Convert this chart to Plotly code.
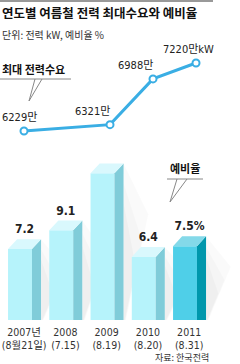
import plotly.graph_objects as go

# ---------------- data ----------------
years = ["2007", "2008", "2009", "2010", "2011"]
tick_labels = ["2007년<br>(8월21일)", "2008<br>(7.15)", "2009<br>(8.19)",
               "2010<br>(8.20)", "2011<br>(8.31)"]
reserve = [7.2, 9.1, 14.9, 6.4, 7.5]
reserve_labels = ["7.2", "9.1", "14.9", "6.4", "7.5%"]
demand = [6229, None, 6321, 6988, 7220]
demand_labels = ["6229만", None, "6321만", "6988만", "7220만kW"]

title = "연도별 여름철 전력 최대수요와 예비율"
subtitle = "단위: 전력 kW, 예비율 %"
source = "자료: 한국전력"
demand_name = "최대 전력수요"
reserve_name = "예비율"

# ---------------- style ----------------
W, H = 240, 364
NARROW = "Liberation Sans Narrow, DejaVu Sans Condensed, Roboto, Noto Sans CJK KR, sans-serif"
KR = "Noto Sans CJK KR, sans-serif"
front_c = ["#b6f3fb"] * 4 + ["#4fcfe8"]
side_c = ["#80ccd9"] * 4 + ["#0097ac"]
top_c = ["#d9f8fd"] * 4 + ["#84d9e9"]
line_c = "#3aaee4"
bw, dx, dy = 0.58, 0.22, 1.0


def px(x):
    return x / W


def py(y):
    return 1 - y / H


idx = list(range(len(years)))
fig = go.Figure()

# bar front faces
fig.add_trace(go.Bar(x=idx, y=reserve, width=bw, marker=dict(color=front_c, line=dict(width=0)),
                     xaxis="x", yaxis="y", hoverinfo="skip"))

shapes = []
for i, v in enumerate(reserve):
    xl, xr = i - bw / 2, i + bw / 2
    xs = xr + dx
    # soft shadow (layers for a faint gradient)
    for k, a in [(1.0, 0.02), (0.75, 0.02), (0.5, 0.025)]:
        shapes.append(dict(type="path", xref="x", yref="y", layer="below",
                           path=(f"M{xs},0 L{xs+0.06*k},0 L{xs+0.6*k},{v*0.72*k} "
                                 f"L{xs},{(v+dy)*(0.5+0.5*k)} Z"),
                           fillcolor=f"rgba(0,0,0,{a})", line=dict(width=0)))
    # side face
    fig.add_trace(go.Scatter(x=[xr, xr + dx, xr + dx, xr, xr], y=[0, 0, v + dy, v, 0],
                             fill="toself", fillcolor=side_c[i], mode="lines",
                             line=dict(width=0, color=side_c[i]), xaxis="x", yaxis="y",
                             hoverinfo="skip"))
    # top face
    fig.add_trace(go.Scatter(x=[xl, xr, xr + dx, xl + dx, xl], y=[v, v, v + dy, v + dy, v],
                             fill="toself", fillcolor=top_c[i], mode="lines",
                             line=dict(width=0, color=top_c[i]), xaxis="x", yaxis="y",
                             hoverinfo="skip"))

# bar value labels
fig.add_trace(go.Scatter(x=[i + dx / 2 for i in idx], y=[v + dy + 0.9 for v in reserve],
                         mode="text", text=[f"<b>{t}</b>" for t in reserve_labels],
                         textposition="middle center",
                         textfont=dict(family=NARROW, size=12, color="#222"),
                         cliponaxis=False, xaxis="x", yaxis="y", hoverinfo="skip"))

# demand line
fig.add_trace(go.Scatter(x=idx, y=demand, mode="lines+markers", connectgaps=True,
                         line=dict(color=line_c, width=3),
                         marker=dict(size=7, color="white", line=dict(color=line_c, width=2)),
                         xaxis="x2", yaxis="y2", cliponaxis=False, hoverinfo="skip"))

annotations = []
lab_anchor = ["left", None, "right", "right", "center"]
lab_xshift = [-24, 0, 2, 2, -8]
for i, (v, t) in enumerate(zip(demand, demand_labels)):
    if v is None:
        continue
    annotations.append(dict(x=i, y=v, xref="x2", yref="y2", text=t, showarrow=False,
                            xanchor=lab_anchor[i], yanchor="bottom", xshift=lab_xshift[i],
                            yshift=5, font=dict(family=NARROW, size=11, color="#222")))

# titles / notes
annotations += [
    dict(x=0, y=py(13), xref="paper", yref="paper", text=f"<b>{title}</b>", showarrow=False,
         xanchor="left", yanchor="middle", font=dict(family=KR, size=12.5, color="#111")),
    dict(x=0, y=py(34), xref="paper", yref="paper", text=subtitle, showarrow=False,
         xanchor="left", yanchor="middle", font=dict(family=KR, size=10, color="#333")),
    dict(x=0, y=py(69), xref="paper", yref="paper", text=f"<b>{demand_name}</b>",
         showarrow=False, xanchor="left", yanchor="middle",
         font=dict(family=KR, size=11, color="#111")),
    dict(x=px(185), y=py(168), xref="paper", yref="paper", text=f"<b>{reserve_name}</b>",
         showarrow=False, xanchor="center", yanchor="middle",
         font=dict(family=KR, size=11, color="#111")),
    dict(x=px(211), y=py(357), xref="paper", yref="paper", text=source, showarrow=False,
         xanchor="right", yanchor="middle", font=dict(family=KR, size=9, color="#333")),
]

line_style = dict(color="#888", width=1)
shapes += [
    dict(type="line", xref="paper", yref="paper", x0=0, x1=px(213), y0=py(1), y1=py(1),
         line=dict(color="#999", width=2)),
    dict(type="line", xref="paper", yref="paper", x0=0, x1=px(71), y0=py(79), y1=py(79), line=line_style),
    dict(type="line", xref="paper", yref="paper", x0=px(35), x1=px(29), y0=py(79), y1=py(101), line=line_style),
    dict(type="line", xref="paper", yref="paper", x0=px(42), x1=px(29), y0=py(79), y1=py(101), line=line_style),
    dict(type="line", xref="paper", yref="paper", x0=px(167), x1=px(203), y0=py(179), y1=py(179), line=line_style),
    dict(type="line", xref="paper", yref="paper", x0=px(177), x1=px(170), y0=py(179), y1=py(202), line=line_style),
    dict(type="line", xref="paper", yref="paper", x0=px(187), x1=px(170), y0=py(179), y1=py(202), line=line_style),
]

fig.update_layout(
    width=W, height=H, margin=dict(l=0, r=0, t=0, b=0),
    paper_bgcolor="white", plot_bgcolor="rgba(0,0,0,0)", showlegend=False,
    xaxis=dict(domain=[0, 1], range=[-0.485, 5.333], tickvals=[i + 0.1 for i in idx],
               ticktext=tick_labels, showgrid=False, zeroline=False, showline=False,
               ticks="", tickfont=dict(family=NARROW, size=10.5, color="#333"), anchor="y",
               ticklabeloverflow="allow", ticklabelstandoff=4, automargin=False,
               fixedrange=True),
    yaxis=dict(domain=[py(320), py(320 - 16 * 9.85)], range=[0, 16], visible=False,
               fixedrange=True),
    xaxis2=dict(domain=[0, 1], range=[-0.558, 5.023], visible=False, anchor="y2",
                fixedrange=True),
    yaxis2=dict(domain=[py(160.4), py(36.9)], range=[5800, 7600], visible=False,
                anchor="x2", fixedrange=True),
    annotations=annotations, shapes=shapes,
)

fig.write_html("out.html", config={"displayModeBar": False})
